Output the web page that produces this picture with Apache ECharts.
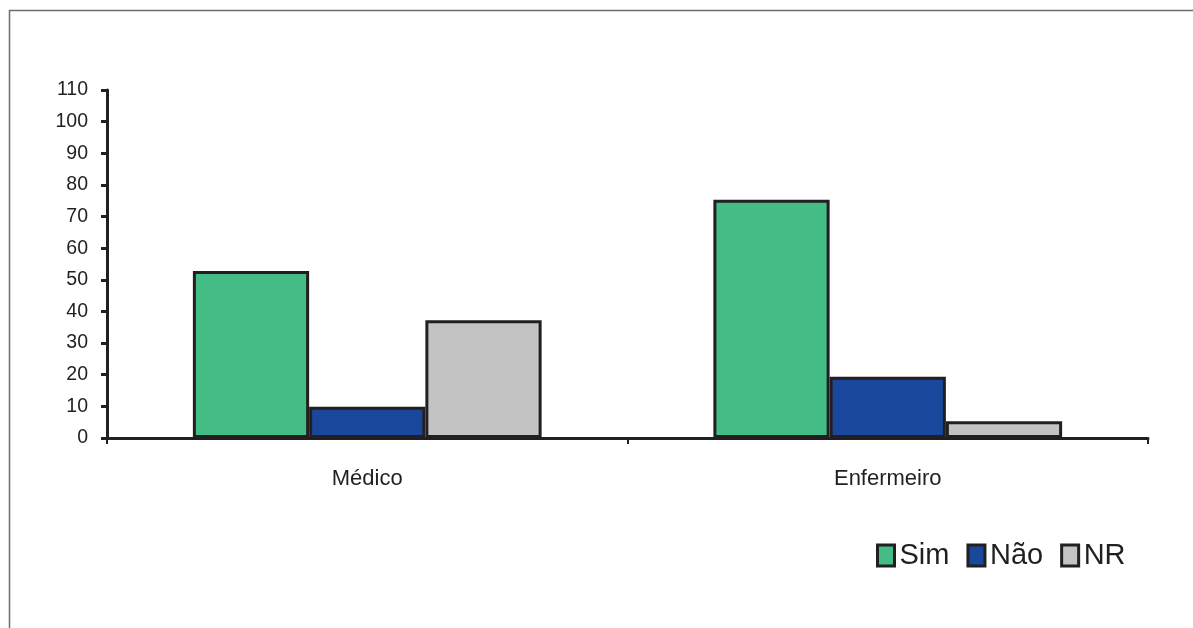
<!DOCTYPE html>
<html>
<head>
<meta charset="utf-8">
<script src="https://cdn.jsdelivr.net/npm/echarts@6/dist/echarts.min.js"></script>
<style>
html,body{margin:0;padding:0;background:#fff;}
#c{width:1193px;height:628px;}
</style>
</head>
<body>
<div id="c"></div>
<script>
const categories = ['Médico', 'Enfermeiro'];
const simValues = [52.8, 75.3];
const naoValues = [9.9, 19.4];
const nrValues = [37.2, 5.3];
const yTicks = [0, 10, 20, 30, 40, 50, 60, 70, 80, 90, 100, 110];

const chart = echarts.init(document.getElementById('c'));
const edge = '#231f20';
function mk(name, data, color) {
  return {
    name: name, type: 'bar', data: data,
    barGap: '0%', barCategoryGap: '33%',
    itemStyle: { color: color, borderColor: edge, borderWidth: 3 },
    emphasis: { disabled: true }
  };
}
chart.setOption({
  animation: false,
  textStyle: { fontFamily: 'Liberation Sans, Arial, sans-serif' },
  grid: { left: 107, right: 45, top: 90, bottom: 190 },
  xAxis: {
    type: 'category', data: categories,
    axisLine: { lineStyle: { color: edge, width: 3 } },
    axisTick: { show: true, length: 6, lineStyle: { color: edge, width: 2 } },
    axisLabel: { color: '#231f20', fontSize: 22, margin: 30, fontFamily: 'Liberation Sans, Arial, sans-serif' }
  },
  yAxis: {
    type: 'value', min: yTicks[0], max: yTicks[yTicks.length - 1], interval: 10,
    splitLine: { show: false },
    axisLine: { show: true, lineStyle: { color: edge, width: 3 } },
    axisTick: { show: true, length: 6, lineStyle: { color: edge, width: 3 } },
    axisLabel: { color: '#231f20', fontSize: 19.5, margin: 19, fontFamily: 'Liberation Sans, Arial, sans-serif' }
  },
  legend: {
    left: 871, top: 536,
    itemWidth: 17, itemHeight: 21, itemGap: 17,
    icon: 'rect',
    itemStyle: { borderColor: edge, borderWidth: 3 },
    textStyle: { color: '#231f20', fontSize: 29, padding: [0, 0, 0, 0], fontFamily: 'Liberation Sans, Arial, sans-serif' },
    data: ['Sim', 'Não', 'NR']
  },
  series: [
    mk('Sim', simValues, '#43bc85'),
    mk('Não', naoValues, '#18479b'),
    mk('NR', nrValues, '#c3c3c3')
  ],
  graphic: [
    { type: 'polyline', silent: true,
      shape: { points: [[9.5, 628], [9.5, 10.5], [1193, 10.5]] },
      style: { stroke: '#6d6e70', lineWidth: 1.5, fill: null } }
  ]
});
</script>
</body>
</html>
